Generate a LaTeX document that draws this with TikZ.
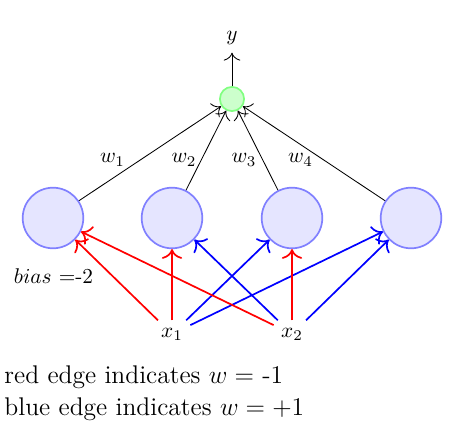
\documentclass[tikz,border=0pt]{standalone}
\usetikzlibrary{arrows.meta}
\begin{document}
\begin{tikzpicture}[x=0.4695pt,y=-0.4695pt,
  hid/.style={circle,draw=blue!50,fill=blue!10,thick,minimum size=1cm,inner sep=0pt},
  outn/.style={circle,draw=green!50,fill=green!20,thick,minimum size=0.4cm,inner sep=0pt},
  redge/.style={-{To[scale=1.35]},red,thick},
  bedge/.style={-{To[scale=1.35]},blue,thick},
  wedge/.style={-{To[scale=1.5]}},
  lbl/.style={anchor=base},
  legend/.style={anchor=base west,inner sep=0pt,font=\large}]
\useasboundingbox (0,0) rectangle (452,438);
\node[hid] (h1) at (53,218) {};
\node[hid] (h2) at (172,218) {};
\node[hid] (h3) at (292,218) {};
\node[hid] (h4) at (411,218) {};
\node[outn] (o) at (232,99) {};
\node[lbl] (y) at (232,41) {$y$};
\node[lbl] (x1) at (172,337) {$x_1$};
\node[lbl] (x2) at (292,337) {$x_2$};
\node[lbl] (bias) at (53.5,284) {$bias$ =-2};
\node[lbl] (w1) at (112.5,163) {$w_1$};
\node[lbl] (w2) at (184,163) {$w_2$};
\node[lbl] (w3) at (244,163) {$w_3$};
\node[lbl] (w4) at (300.5,163) {$w_4$};
\node[legend] (t1) at (4,383) {red edge indicates $w =$ -1};
\node[legend] (t2) at (4,415) {blue edge indicates $w = +1$};
\draw[wedge] (h1) -- (o);
\draw[wedge] (h2) -- (o);
\draw[wedge] (h3) -- (o);
\draw[wedge] (h4) -- (o);
\draw[wedge] (o) -- (y);
\draw[redge] (x1) -- (h1);
\draw[redge] (x1) -- (h2);
\draw[bedge] (x1) -- (h3);
\draw[bedge] (x1) -- (h4);
\draw[redge] (x2) -- (h1);
\draw[bedge] (x2) -- (h2);
\draw[redge] (x2) -- (h3);
\draw[bedge] (x2) -- (h4);
\end{tikzpicture}
\end{document}
